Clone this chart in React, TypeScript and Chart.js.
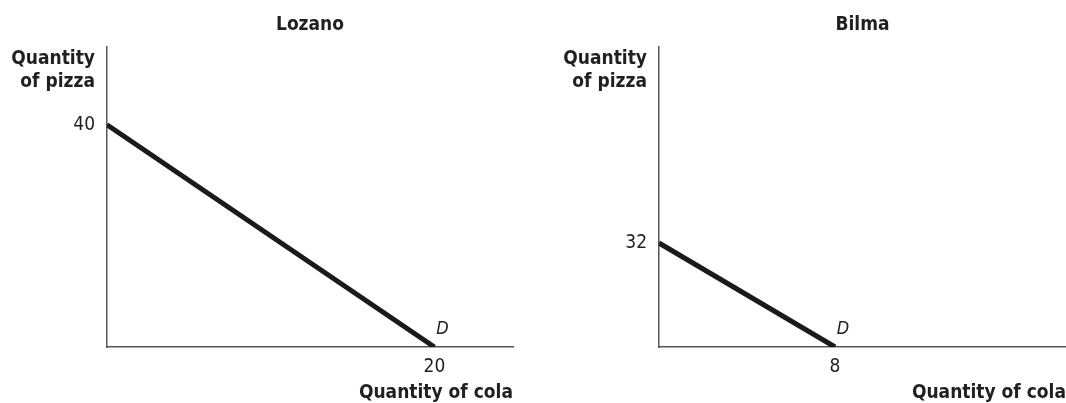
import React, { useEffect, useRef } from "react";
import { Chart, registerables } from "chart.js";

Chart.register(...registerables);

// ---- data ----
const lozanoTitle = "Lozano";
const bilmaTitle = "Bilma";
const lozanoCola = [0, 20];
const lozanoPizza = [40, 0];
const bilmaCola = [0, 8];
const bilmaPizza = [32, 0];
const lozanoXTicks = [20];
const lozanoYTicks = [40];
const bilmaXTicks = [8];
const bilmaYTicks = [32];
const yTitleLines = ["Quantity", "of pizza"];
const xTitle = "Quantity of cola";
const curveLabel = "D";

const FONT = "'DejaVu Sans Condensed', 'Liberation Sans Narrow', 'DejaVu Sans', sans-serif";
const TEXT = "#231f20";
const AXIS = "#555555";

interface PanelProps {
  left: number;
  width: number;
  title: string;
  cola: number[];
  pizza: number[];
  xTicks: number[];
  yTicks: number[];
  xMax: number;
  yMax: number;
  yAxisWidth: number;
  padRight: number;
}

function Panel(props: PanelProps) {
  const ref = useRef<HTMLCanvasElement | null>(null);
  useEffect(() => {
    const canvas = ref.current;
    if (!canvas) return;
    const pts = props.cola.map((c, i) => ({ x: c, y: props.pizza[i] }));
    const textPlugin = {
      id: "texts",
      afterDraw(chart: any) {
        const ctx = chart.ctx;
        const a = chart.chartArea;
        ctx.save();
        ctx.fillStyle = TEXT;
        ctx.textBaseline = "alphabetic";
        // title
        ctx.font = `bold 19px ${FONT}`;
        ctx.textAlign = "center";
        ctx.fillText(props.title, (a.left + a.right) / 2, 30);
        // y title
        ctx.textAlign = "right";
        ctx.fillText(yTitleLines[0], a.left - 12, 64);
        ctx.fillText(yTitleLines[1], a.left - 12, 87);
        // x title
        ctx.fillText(xTitle, a.right, 398);
        // D label
        const xs = chart.scales.x;
        const ys = chart.scales.y;
        const last = pts[pts.length - 1];
        const px = xs.getPixelForValue(last.x);
        const py = ys.getPixelForValue(last.y);
        ctx.font = `italic 18px ${FONT}`;
        ctx.textAlign = "center";
        ctx.textBaseline = "middle";
        ctx.fillText(curveLabel, px + 8, py - 18);
        ctx.restore();
      },
    };
    const chart = new Chart(canvas, {
      type: "scatter",
      data: {
        datasets: [
          {
            data: pts,
            showLine: true,
            borderColor: "#1a1a1a",
            borderWidth: 5,
            pointRadius: 0,
            borderCapStyle: "butt",
          } as any,
        ],
      },
      options: {
        animation: false,
        responsive: false,
        maintainAspectRatio: false,
        events: [],
        layout: { padding: { top: 47, right: props.padRight, left: 0, bottom: 0 } },
        plugins: { legend: { display: false }, tooltip: { enabled: false }, title: { display: false } },
        scales: {
          x: {
            type: "linear",
            min: 0,
            max: props.xMax,
            grid: { display: false, drawTicks: false },
            border: { display: true, color: AXIS, width: 1.5 },
            afterBuildTicks: (s: any) => {
              s.ticks = props.xTicks.map((v) => ({ value: v }));
            },
            afterFit: (s: any) => {
              s.height = 56;
            },
            ticks: {
              color: TEXT,
              font: { family: FONT, size: 19 },
              padding: 9,
              maxRotation: 0,
              autoSkip: false,
            },
          },
          y: {
            type: "linear",
            min: 0,
            max: props.yMax,
            grid: { display: false, drawTicks: false },
            border: { display: true, color: AXIS, width: 1.5 },
            afterBuildTicks: (s: any) => {
              s.ticks = props.yTicks.map((v) => ({ value: v }));
            },
            afterFit: (s: any) => {
              s.width = props.yAxisWidth;
            },
            ticks: {
              color: TEXT,
              font: { family: FONT, size: 19 },
              padding: 12,
              autoSkip: false,
            },
          },
        },
      },
      plugins: [textPlugin],
    });
    return () => chart.destroy();
  }, []);
  return (
    <div style={{ position: "absolute", left: props.left, top: 0, width: props.width, height: 403 }}>
      <canvas ref={ref} width={props.width} height={403} style={{ width: props.width, height: 403, display: "block" }} />
    </div>
  );
}

export default function App() {
  return (
    <div style={{ position: "absolute", left: 0, top: 0, width: 1066, height: 403, background: "#fff", overflow: "hidden" }}>
      <Panel
        left={0}
        width={530}
        title={lozanoTitle}
        cola={lozanoCola}
        pizza={lozanoPizza}
        xTicks={lozanoXTicks}
        yTicks={lozanoYTicks}
        xMax={24.8}
        yMax={54}
        yAxisWidth={107}
        padRight={17}
      />
      <Panel
        left={530}
        width={536}
        title={bilmaTitle}
        cola={bilmaCola}
        pizza={bilmaPizza}
        xTicks={bilmaXTicks}
        yTicks={bilmaYTicks}
        xMax={18.5}
        yMax={92.3}
        yAxisWidth={129}
        padRight={0}
      />
    </div>
  );
}
